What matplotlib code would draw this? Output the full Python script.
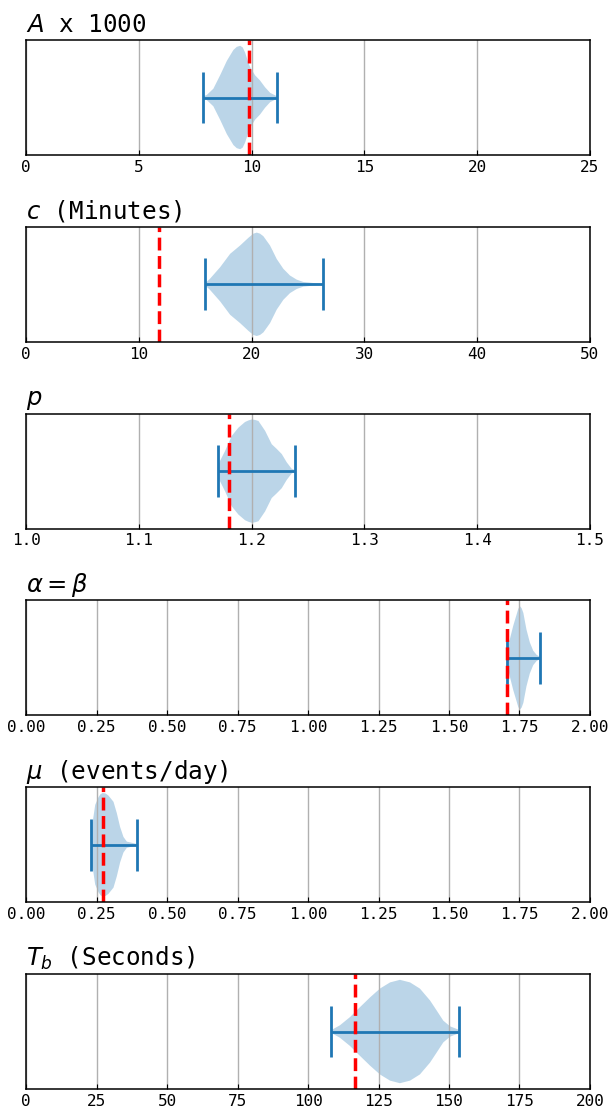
import numpy as np
import matplotlib
matplotlib.use("Agg")
import matplotlib.pyplot as plt

# titres et axes de chaque panneau
titles = ["$A$ x 1000", "$c$ (Minutes)", "$p$", r"$\alpha = \beta$",
          r"$\mu$ (events/day)", "$T_b$ (Seconds)"]
xlims = [(0, 25), (0, 50), (1.0, 1.5), (0, 2), (0, 2), (0, 200)]
xticks = [np.arange(0, 26, 5), np.arange(0, 51, 10), np.arange(1.0, 1.51, 0.1),
          np.arange(0, 2.01, 0.25), np.arange(0, 2.01, 0.25), np.arange(0, 201, 25)]

# valeurs "vraies" (ligne rouge)
truth = [9.9, 11.8, 1.18, 1.705, 0.272, 116.5]

# profils des violons (position, densite relative)
a_coords = [7.83, 8.01, 8.30, 8.60, 8.90, 9.19, 9.34, 9.49, 9.60, 9.71, 9.82, 9.93,
            10.15, 10.37, 10.59, 10.82, 11.14]
a_dens = [0.02, 0.05, 0.17, 0.43, 0.71, 0.92, 0.98, 1.0, 0.97, 0.87, 0.72, 0.59,
          0.43, 0.33, 0.20, 0.09, 0.02]

c_coords = [15.87, 16.31, 17.20, 18.09, 18.97, 19.71, 20.15, 20.45, 20.74, 21.04, 21.63,
            22.22, 22.81, 23.40, 24.00, 24.59, 25.47, 26.36]
c_dens = [0.02, 0.11, 0.33, 0.59, 0.75, 0.90, 0.98, 1.0, 0.98, 0.93, 0.75,
          0.49, 0.30, 0.17, 0.09, 0.045, 0.025, 0.01]

p_coords = [1.1699, 1.1720, 1.1764, 1.1823, 1.1882, 1.1941, 1.1971, 1.2001, 1.2030,
            1.2060, 1.2119, 1.2178, 1.2222, 1.2267, 1.2311, 1.2355, 1.2385]
p_dens = [0.08, 0.2, 0.39, 0.68, 0.84, 0.95, 0.98, 1.0, 0.99, 0.97, 0.78, 0.52,
          0.43, 0.33, 0.17, 0.045, 0.02]

ab_coords = [1.707, 1.716, 1.728, 1.740, 1.746, 1.752, 1.758, 1.764, 1.775, 1.787,
             1.799, 1.811, 1.823]
ab_dens = [0.15, 0.36, 0.62, 0.84, 0.95, 1.0, 0.96, 0.87, 0.55, 0.30, 0.14, 0.06, 0.02]

mu_coords = [0.2305, 0.2364, 0.2447, 0.2565, 0.2640, 0.2719, 0.2819, 0.2919, 0.3097,
             0.3215, 0.3333, 0.3451, 0.3570, 0.3806, 0.3948]
mu_dens = [0.40, 0.46, 0.77, 0.92, 0.98, 1.0, 0.99, 0.95, 0.83, 0.61, 0.34, 0.15,
           0.06, 0.03, 0.01]

tb_coords = [108.0, 111.3, 114.9, 118.4, 122.0, 125.5, 129.1, 132.6, 136.2, 139.7,
             143.3, 145.6, 148.0, 150.4, 153.7]
tb_dens = [0.02, 0.12, 0.28, 0.47, 0.66, 0.83, 0.95, 1.0, 0.95, 0.83,
           0.60, 0.41, 0.21, 0.10, 0.03]

all_coords = [a_coords, c_coords, p_coords, ab_coords, mu_coords, tb_coords]
all_dens = [a_dens, c_dens, p_dens, ab_dens, mu_dens, tb_dens]

fig, axes = plt.subplots(6, 1, figsize=(6.1, 11.13), dpi=100)
fig.subplots_adjust(left=0.043, right=0.967, top=0.964, bottom=0.0216, hspace=0.626)

for ax, title, xl, xt, tv, coords, dens in zip(axes, titles, xlims, xticks, truth,
                                                 all_coords, all_dens):
    coords = np.array(coords)
    dens = np.array(dens)
    stats = [{
        'coords': coords,
        'vals': dens,
        'mean': np.average(coords, weights=dens),
        'median': coords[np.argmax(dens)],
        'min': coords.min(),
        'max': coords.max(),
    }]
    parts = ax.violin(stats, positions=[1], widths=[0.9], orientation='horizontal',
                      showmeans=False, showextrema=True, showmedians=False)
    for key in ('cbars', 'cmins', 'cmaxes'):
        parts[key].set_linewidth(2)
    ax.axvline(tv, color='red', linestyle='--', linewidth=2.5)

    ax.set_xlim(*xl)
    ax.set_ylim(0.5, 1.5)
    ax.set_xticks(xt)
    ax.set_yticks([])
    ax.grid(True, axis='x', color='#b0b0b0', linewidth=1)
    ax.tick_params(axis='x', direction='in', labelsize=11.5)
    for lab in ax.get_xticklabels():
        lab.set_family('DejaVu Sans Mono')
    for sp in ax.spines.values():
        sp.set_linewidth(1.1)
    ax.set_title(title, loc='left', fontsize=17.5, family='DejaVu Sans Mono')

fig.savefig("out.png", dpi=100)
